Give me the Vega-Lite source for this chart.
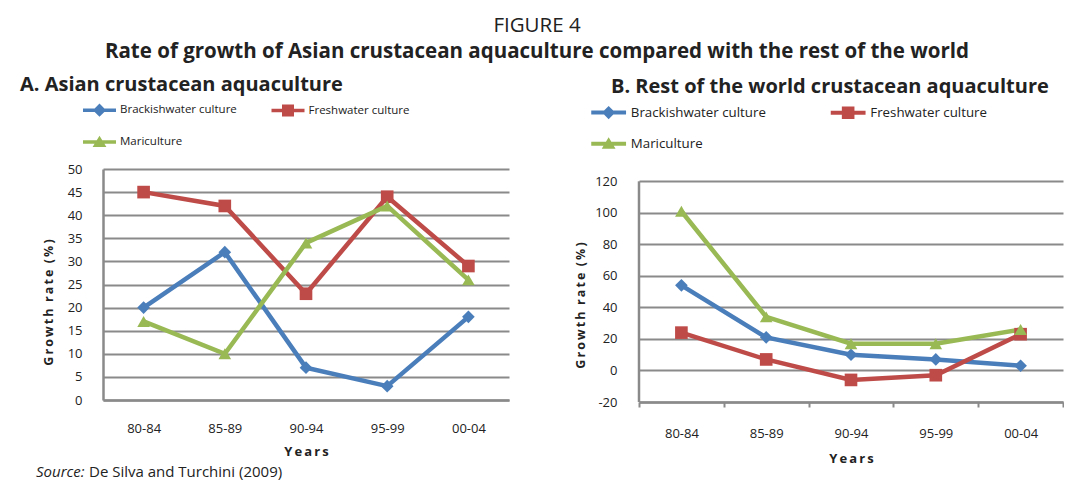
{
  "$schema": "https://vega.github.io/schema/vega-lite/v6.json",
  "background": "white",
  "padding": {"left": 20, "top": 16, "right": 0, "bottom": 0},
  "config": {
    "view": {"stroke": null},
    "font": "Open Sans",
    "axis": {"labelColor": "#222", "titleColor": "#222", "labelFont": "Open Sans", "titleFont": "Open Sans"},
    "legend": {"labelColor": "#222", "labelFont": "Open Sans"}
  },
  "title": {
    "text": "FIGURE 4",
    "subtitle": "Rate of growth of Asian crustacean aquaculture compared with the rest of the world",
    "anchor": "middle",
    "dx": -5,
    "font": "Open Sans",
    "fontSize": 20.5,
    "fontWeight": "normal",
    "color": "#222",
    "subtitleFont": "Open Sans",
    "subtitleFontSize": 20.5,
    "subtitleFontWeight": "bold",
    "subtitleColor": "#222",
    "subtitlePadding": 5,
    "offset": 13
  },
  "datasets": {
    "A": [
      {"period": "80-84", "series": "Brackishwater culture", "rate": 20},
      {"period": "85-89", "series": "Brackishwater culture", "rate": 32},
      {"period": "90-94", "series": "Brackishwater culture", "rate": 7},
      {"period": "95-99", "series": "Brackishwater culture", "rate": 3},
      {"period": "00-04", "series": "Brackishwater culture", "rate": 18},
      {"period": "80-84", "series": "Freshwater culture", "rate": 45},
      {"period": "85-89", "series": "Freshwater culture", "rate": 42},
      {"period": "90-94", "series": "Freshwater culture", "rate": 23},
      {"period": "95-99", "series": "Freshwater culture", "rate": 44},
      {"period": "00-04", "series": "Freshwater culture", "rate": 29},
      {"period": "80-84", "series": "Mariculture", "rate": 17},
      {"period": "85-89", "series": "Mariculture", "rate": 10},
      {"period": "90-94", "series": "Mariculture", "rate": 34},
      {"period": "95-99", "series": "Mariculture", "rate": 42},
      {"period": "00-04", "series": "Mariculture", "rate": 26}
    ],
    "B": [
      {"period": "80-84", "series": "Brackishwater culture", "rate": 54},
      {"period": "85-89", "series": "Brackishwater culture", "rate": 21},
      {"period": "90-94", "series": "Brackishwater culture", "rate": 10},
      {"period": "95-99", "series": "Brackishwater culture", "rate": 7},
      {"period": "00-04", "series": "Brackishwater culture", "rate": 3},
      {"period": "80-84", "series": "Freshwater culture", "rate": 24},
      {"period": "85-89", "series": "Freshwater culture", "rate": 7},
      {"period": "90-94", "series": "Freshwater culture", "rate": -6},
      {"period": "95-99", "series": "Freshwater culture", "rate": -3},
      {"period": "00-04", "series": "Freshwater culture", "rate": 23},
      {"period": "80-84", "series": "Mariculture", "rate": 101},
      {"period": "85-89", "series": "Mariculture", "rate": 34},
      {"period": "90-94", "series": "Mariculture", "rate": 17},
      {"period": "95-99", "series": "Mariculture", "rate": 17},
      {"period": "00-04", "series": "Mariculture", "rate": 26}
    ]
  },
  "vconcat": [
    {
      "hconcat": [
        {
          "width": 406,
          "height": 231,
          "title": {"text": "A. Asian crustacean aquaculture", "anchor": "start", "frame": "group", "dx": -83, "fontSize": 20, "fontWeight": "bold", "color": "#222", "font": "Open Sans", "offset": 9},
          "data": {"name": "A"},
          "encoding": {
            "x": {
              "field": "period", "type": "nominal",
              "sort": ["80-84", "85-89", "90-94", "95-99", "00-04"],
              "scale": {"domain": ["80-84", "85-89", "90-94", "95-99", "00-04"], "paddingInner": 0, "paddingOuter": 0},
              "axis": {
                "title": "Y\u2009e\u2009a\u2009r\u2009s", "titleFontSize": 13, "titleFontWeight": "bold", "titlePadding": 10,
                "labelAngle": 0, "labelFontSize": 13, "labelPadding": 22, "ticks": false,
                "domainColor": "#8a8a8a", "domainWidth": 2.5
              }
            },
            "y": {
              "field": "rate", "type": "quantitative",
              "scale": {"domain": [0, 50], "nice": false, "zero": false},
              "axis": {
                "title": "G\u2009r\u2009o\u2009w\u2009t\u2009h\u00a0\u00a0r\u2009a\u2009t\u2009e\u00a0\u00a0(\u2009%\u2009)",
                "titleFontSize": 12.5, "titleFontWeight": "bold", "titleX": -48, "titleY": 133,
                "values": [0, 5, 10, 15, 20, 25, 30, 35, 40, 45, 50],
                "grid": true, "gridColor": "#8a8a8a", "gridWidth": 2,
                "domainColor": "#8a8a8a", "domainWidth": 2.5,
                "ticks": false, "labelPadding": 21, "labelFontSize": 13
              }
            }
          },
          "layer": [
            {
              "mark": {"type": "line", "strokeWidth": 4.5},
              "encoding": {
                "color": {"field": "series", "type": "nominal", "scale": {"domain": ["Brackishwater culture", "Freshwater culture", "Mariculture"], "range": ["#4a7ebb", "#be4b48", "#98b954"]}, "legend": null}
              }
            },
            {
              "mark": {"type": "point", "filled": true, "opacity": 1, "size": 160},
              "encoding": {
                "color": {"field": "series", "type": "nominal", "legend": null},
                "shape": {"field": "series", "type": "nominal", "scale": {"domain": ["Brackishwater culture", "Freshwater culture", "Mariculture"], "range": ["diamond", "square", "triangle-up"]}, "legend": null}
              }
            },
            {
              "mark": {"type": "point", "filled": true, "opacity": 0},
              "encoding": {
                "fill": {
                  "field": "series", "type": "nominal",
                  "scale": {"domain": ["Brackishwater culture", "Freshwater culture", "Mariculture"], "range": ["#4a7ebb", "#be4b48", "#98b954"]},
                  "legend": {"title": null, "orient": "none", "direction": "horizontal", "legendX": -9.5, "legendY": -65, "columns": 2, "columnPadding": 33.5, "rowPadding": 18, "padding": 0, "symbolSize": 144, "symbolStrokeWidth": 0, "symbolOpacity": 1, "labelFontSize": 11.5, "labelOffset": 14.5}
                },
                "shape": {
                  "field": "series", "type": "nominal",
                  "scale": {"domain": ["Brackishwater culture", "Freshwater culture", "Mariculture"], "range": ["M-2.75,-0.3H2.75V0.3H-2.75Z M0,-1.1L1.1,0L0,1.1L-1.1,0Z", "M-2.75,-0.3H2.75V0.3H-2.75Z M-1,-1H1V1H-1Z", "M-2.75,-0.3H2.75V0.3H-2.75Z M0,-1.05L1.15,0.85H-1.15Z"]},
                  "legend": {"title": null, "orient": "none", "direction": "horizontal", "legendX": -9.5, "legendY": -65, "columns": 2, "columnPadding": 33.5, "rowPadding": 18, "padding": 0, "symbolSize": 144, "symbolStrokeWidth": 0, "symbolOpacity": 1, "labelFontSize": 11.5, "labelOffset": 14.5}
                }
              }
            }
          ],
          "resolve": {"scale": {"shape": "independent", "fill": "independent"}, "legend": {"shape": "independent", "fill": "independent"}}
        },
        {
          "width": 424,
          "height": 233,
          "title": {"text": "B. Rest of the world crustacean aquaculture", "anchor": "start", "frame": "group", "dx": -28, "fontSize": 20, "fontWeight": "bold", "color": "#222", "font": "Open Sans", "offset": 9},
          "data": {"name": "B"},
          "encoding": {
            "x": {
              "field": "period", "type": "nominal",
              "sort": ["80-84", "85-89", "90-94", "95-99", "00-04"],
              "scale": {"domain": ["80-84", "85-89", "90-94", "95-99", "00-04"], "paddingInner": 0, "paddingOuter": 0},
              "axis": {
                "title": "Y\u2009e\u2009a\u2009r\u2009s", "titleFontSize": 13, "titleFontWeight": "bold", "titlePadding": 12,
                "labelAngle": 0, "labelFontSize": 13, "labelPadding": 20, "ticks": true, "tickBand": "extent", "tickSize": 5,
                "tickColor": "#8a8a8a", "tickWidth": 2,
                "domainColor": "#8a8a8a", "domainWidth": 2.5
              }
            },
            "y": {
              "field": "rate", "type": "quantitative",
              "scale": {"domain": [-20, 127.8], "nice": false, "zero": false},
              "axis": {
                "title": "G\u2009r\u2009o\u2009w\u2009t\u2009h\u00a0\u00a0r\u2009a\u2009t\u2009e\u00a0\u00a0(\u2009%\u2009)",
                "titleFontSize": 12.5, "titleFontWeight": "bold", "titleX": -52, "titleY": 136,
                "values": [-20, 0, 20, 40, 60, 80, 100, 120],
                "labelExpr": "'' + datum.value",
                "grid": true, "gridColor": "#8a8a8a", "gridWidth": 2,
                "domain": false,
                "ticks": false, "labelPadding": 22, "labelFontSize": 13
              }
            }
          },
          "layer": [
            {
              "data": {"values": [{"lo": -20, "hi": 120}]},
              "mark": {"type": "rule", "color": "#8a8a8a", "strokeWidth": 2.5},
              "encoding": {"x": {"value": 0}, "y": {"field": "lo", "type": "quantitative"}, "y2": {"field": "hi"}}
            },
            {
              "mark": {"type": "line", "strokeWidth": 4.5},
              "encoding": {
                "color": {"field": "series", "type": "nominal", "scale": {"domain": ["Brackishwater culture", "Freshwater culture", "Mariculture"], "range": ["#4a7ebb", "#be4b48", "#98b954"]}, "legend": null}
              }
            },
            {
              "mark": {"type": "point", "filled": true, "opacity": 1, "size": 160},
              "encoding": {
                "color": {"field": "series", "type": "nominal", "legend": null},
                "shape": {"field": "series", "type": "nominal", "scale": {"domain": ["Brackishwater culture", "Freshwater culture", "Mariculture"], "range": ["diamond", "square", "triangle-up"]}, "legend": null}
              }
            },
            {
              "mark": {"type": "point", "filled": true, "opacity": 0},
              "encoding": {
                "fill": {
                  "field": "series", "type": "nominal",
                  "scale": {"domain": ["Brackishwater culture", "Freshwater culture", "Mariculture"], "range": ["#4a7ebb", "#be4b48", "#98b954"]},
                  "legend": {"title": null, "orient": "none", "direction": "horizontal", "legendX": -37, "legendY": -63.5, "columns": 2, "columnPadding": 64.5, "rowPadding": 16.5, "padding": 0, "symbolSize": 144, "symbolStrokeWidth": 0, "symbolOpacity": 1, "labelFontSize": 13.3, "labelOffset": 15.5}
                },
                "shape": {
                  "field": "series", "type": "nominal",
                  "scale": {"domain": ["Brackishwater culture", "Freshwater culture", "Mariculture"], "range": ["M-2.9,-0.33H2.9V0.33H-2.9Z M0,-1.1L1.1,0L0,1.1L-1.1,0Z", "M-2.9,-0.33H2.9V0.33H-2.9Z M-1.05,-1.05H1.05V1.05H-1.05Z", "M-2.9,-0.33H2.9V0.33H-2.9Z M0,-1.05L1.15,0.85H-1.15Z"]},
                  "legend": {"title": null, "orient": "none", "direction": "horizontal", "legendX": -37, "legendY": -63.5, "columns": 2, "columnPadding": 64.5, "rowPadding": 16.5, "padding": 0, "symbolSize": 144, "symbolStrokeWidth": 0, "symbolOpacity": 1, "labelFontSize": 13.3, "labelOffset": 15.5}
                }
              }
            }
          ],
          "resolve": {"scale": {"shape": "independent", "fill": "independent"}, "legend": {"shape": "independent", "fill": "independent"}}
        }
      ],
      "spacing": 65
    },
    {
      "width": 400,
      "height": 14,
      "data": {"values": [{"a": "Source:", "b": "De Silva and Turchini (2009)"}]},
      "layer": [
        {
          "mark": {"type": "text", "align": "left", "baseline": "middle", "fontStyle": "italic", "fontSize": 15, "color": "#222", "font": "Open Sans"},
          "encoding": {"text": {"field": "a"}, "x": {"value": -67}, "y": {"value": 4}}
        },
        {
          "mark": {"type": "text", "align": "left", "baseline": "middle", "fontSize": 15, "color": "#222", "font": "Open Sans", "dx": 53},
          "encoding": {"text": {"field": "b"}, "x": {"value": -67}, "y": {"value": 4}}
        }
      ]
    }
  ],
  "spacing": 0
}
